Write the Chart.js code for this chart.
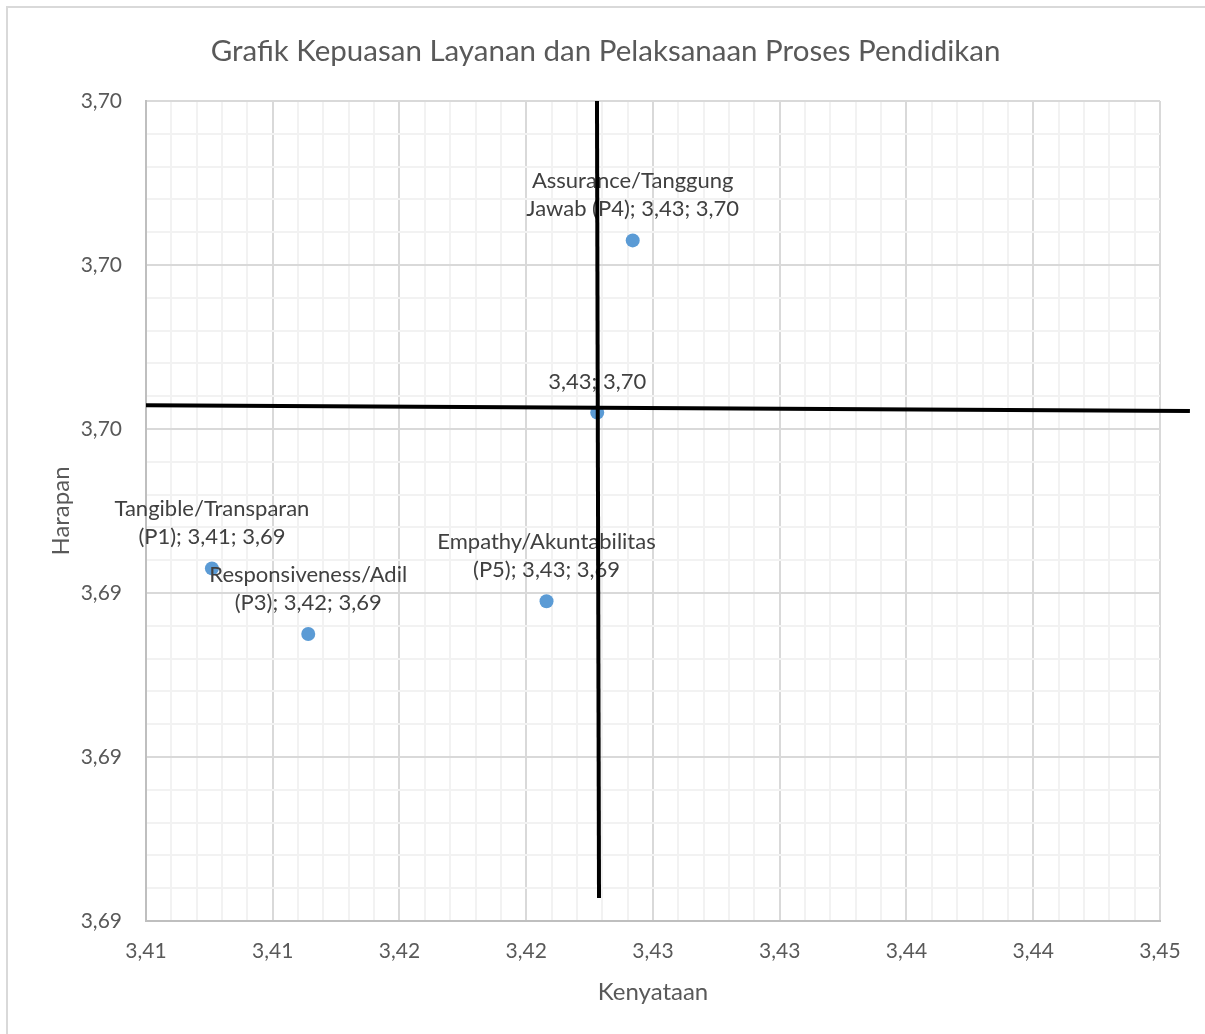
<!DOCTYPE html>
<html><head><meta charset="utf-8">
<script src="https://cdn.jsdelivr.net/npm/chart.js@4.4.1/dist/chart.umd.min.js"></script>
<style>
html,body{margin:0;padding:0;background:#fff;overflow:hidden;}
#wrap{position:relative;width:1205px;height:1034px;overflow:hidden;}
#frame{position:absolute;left:6px;top:6px;width:1400px;height:1400px;border-left:2px solid #d9d9d9;border-top:2px solid #d9d9d9;pointer-events:none;box-sizing:border-box;}
</style></head><body>
<div id="wrap"><canvas id="c"></canvas><div id="frame"></div></div>
<script>
const chartTitle = 'Grafik Kepuasan Layanan dan Pelaksanaan Proses Pendidikan';
const xAxisTitle = 'Kenyataan';
const yAxisTitle = 'Harapan';

// scatter points (P1, P3, P5, P4, average)
const pointLabels = [
  'Tangible/Transparan\n(P1); 3,41; 3,69',
  'Responsiveness/Adil\n(P3); 3,42; 3,69',
  'Empathy/Akuntabilitas\n(P5); 3,43; 3,69',
  'Assurance/Tanggung\nJawab (P4); 3,43; 3,70',
  '3,43; 3,70'
];
const xValues = [3.4126, 3.4164, 3.4258, 3.4292, 3.4278];
const yValues = [3.6943, 3.6935, 3.6939, 3.6983, 3.6962];

// quadrant lines
const hLineX = [3.4100, 3.45118];
const hLineY = [3.69629, 3.69622];
const vLineX = [3.42779, 3.42787];
const vLineY = [3.70000, 3.69028];

// axes
const xMajorTicks = [3.410, 3.415, 3.420, 3.425, 3.430, 3.435, 3.440, 3.445, 3.450];
const xTickLabels = ['3,41','3,41','3,42','3,42','3,43','3,43','3,44','3,44','3,45'];
const yMajorTicks = [3.690, 3.692, 3.694, 3.696, 3.698, 3.700];
const yTickLabels = ['3,69','3,69','3,69','3,70','3,70','3,70'];
const minorDivisions = 5;

function buildTicks(majors, labels) {
  const out = [];
  for (let i = 0; i < majors.length; i++) {
    out.push({value: majors[i], major: true, lbl: labels[i]});
    if (i < majors.length - 1) {
      const step = (majors[i+1] - majors[i]) / minorDivisions;
      for (let k = 1; k < minorDivisions; k++) out.push({value: majors[i] + step*k, major: false, lbl: ''});
    }
  }
  return out;
}

const FONT = 'Lato, "Open Sans", sans-serif';
const TXT = '#595959';

const labelPlugin = {
  id: 'pointLabels',
  afterDatasetDraw(chart, args) {
    if (args.index !== 2) return;
    const ctx = chart.ctx;
    const meta = chart.getDatasetMeta(2);
    ctx.save();
    ctx.font = '22px ' + FONT;
    ctx.fillStyle = '#404040';
    ctx.textAlign = 'center';
    ctx.textBaseline = 'middle';
    meta.data.forEach((pt, i) => {
      const lines = pointLabels[i].split('\n');
      const n = lines.length;
      lines.forEach((ln, j) => {
        ctx.fillText(ln, pt.x, pt.y - 31 - (n - 1 - j) * 28);
      });
    });
    ctx.restore();
  }
};

const titlePlugin = {
  id: 'centeredTitle',
  afterDraw(chart) {
    const ctx = chart.ctx;
    ctx.save();
    ctx.font = '29.5px ' + FONT;
    ctx.fillStyle = TXT;
    ctx.textAlign = 'center';
    ctx.textBaseline = 'middle';
    ctx.fillText(chartTitle, chart.width / 2 + 3, 51);
    ctx.restore();
  }
};

new Chart(document.getElementById('c'), {
  type: 'scatter',
  data: {
    datasets: [
      {
        type: 'line', showLine: true, clip: false,
        data: hLineX.map((x, i) => ({x, y: hLineY[i]})),
        borderColor: '#000', borderWidth: 4, pointRadius: 0, borderCapStyle: 'butt'
      },
      {
        type: 'line', showLine: true, clip: false,
        data: vLineX.map((x, i) => ({x, y: vLineY[i]})),
        borderColor: '#000', borderWidth: 4, pointRadius: 0, borderCapStyle: 'butt'
      },
      {
        data: xValues.map((x, i) => ({x, y: yValues[i]})),
        backgroundColor: '#5B9BD5', borderColor: '#5B9BD5',
        pointRadius: 7, pointHoverRadius: 7, borderWidth: 0
      }
    ]
  },
  options: {
    responsive: true, maintainAspectRatio: false, animation: false,
    layout: {padding: {left: 0, right: 45, top: 101, bottom: 0}},
    plugins: {
      legend: {display: false},
      tooltip: {enabled: false},
      title: {display: false}
    },
    scales: {
      x: {
        type: 'linear', min: xMajorTicks[0], max: xMajorTicks[xMajorTicks.length-1],
        afterBuildTicks: s => { s.ticks = buildTicks(xMajorTicks, xTickLabels); },
        afterFit: s => { s.height = 113; },
        ticks: {
          autoSkip: false, maxRotation: 0, padding: 18, color: TXT,
          font: {family: FONT, size: 21},
          callback: (v, i, t) => t[i].lbl
        },
        grid: {
          drawTicks: false,
          color: c => (c.tick && c.tick.major) ? '#d9d9d9' : '#f2f2f2',
          lineWidth: 2
        },
        border: {color: '#bfbfbf', width: 2},
        title: {display: true, text: xAxisTitle, color: TXT, font: {family: FONT, size: 24}, padding: {top: 0, bottom: 27}}
      },
      y: {
        type: 'linear', min: yMajorTicks[0], max: yMajorTicks[yMajorTicks.length-1],
        afterBuildTicks: s => { s.ticks = buildTicks(yMajorTicks, yTickLabels); },
        afterFit: s => { s.width = 146; },
        ticks: {
          autoSkip: false, padding: 24, color: TXT,
          font: {family: FONT, size: 21},
          callback: (v, i, t) => t[i].lbl
        },
        grid: {
          drawTicks: false,
          color: c => (c.tick && c.tick.major) ? '#d9d9d9' : '#f2f2f2',
          lineWidth: 2
        },
        border: {color: '#bfbfbf', width: 2},
        title: {display: true, text: yAxisTitle, color: TXT, font: {family: FONT, size: 24}, padding: {top: 47, bottom: 0}}
      }
    }
  },
  plugins: [labelPlugin, titlePlugin]
});
</script>
</body></html>
